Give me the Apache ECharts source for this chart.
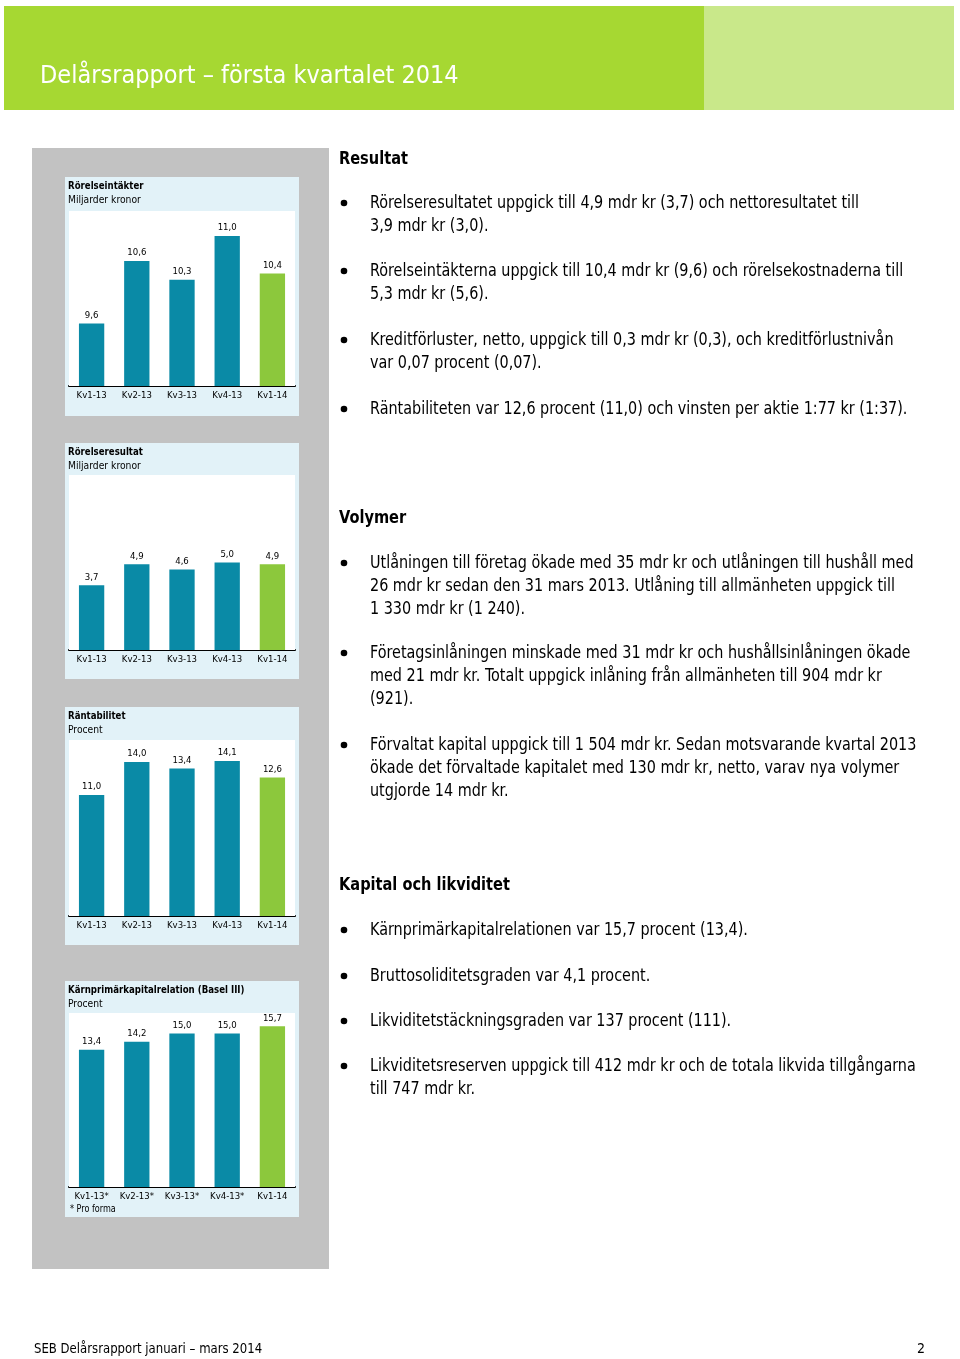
<!DOCTYPE html>
<html>
<head>
<meta charset="utf-8">
<title>Delårsrapport – första kvartalet 2014</title>
<script src="https://cdn.jsdelivr.net/npm/echarts@6/dist/echarts.min.js"></script>
<style>
  html, body { margin: 0; padding: 0; background: #fff; }
  #main { width: 960px; height: 1359px; }
</style>
</head>
<body>
<div id="main"></div>
<script>
// kvartal och värden
var quarters = ['Kv1-13', 'Kv2-13', 'Kv3-13', 'Kv4-13', 'Kv1-14'];
var quartersPro = ['Kv1-13*', 'Kv2-13*', 'Kv3-13*', 'Kv4-13*', 'Kv1-14'];
var rorelseintakter = [9.6, 10.6, 10.3, 11.0, 10.4];
var rorelseresultat = [3.7, 4.9, 4.6, 5.0, 4.9];
var rantabilitet = [11.0, 14.0, 13.4, 14.1, 12.6];
var karnprimar = [13.4, 14.2, 15.0, 15.0, 15.7];

var FONT = '"DejaVu Sans Condensed", "DejaVu Sans", sans-serif';
var TEAL = '#0a8aa6';
var GREEN = '#8cc83c';

// textelement, ev. ihoptryckt i sidled
function txt(x, y, s, font, sx, align) {
    return { type: 'text', x: x, y: y, scaleX: sx || 1, z: 2,
             style: { text: s, fill: '#000', font: font, textAlign: align || 'left', textVerticalAlign: 'middle' } };
}

window.onload = function () {
    var myChart = echarts.init(document.getElementById('main'));

    // panelerna i vänsterspalten
    var panels = [
        { title: 'Rörelseintäkter', sub: 'Miljarder kronor', cats: quarters, data: rorelseintakter,
          box: [177, 416], top: 211, bottom: 386, min: 8.6, max: 11.4 },
        { title: 'Rörelseresultat', sub: 'Miljarder kronor', cats: quarters, data: rorelseresultat,
          box: [443, 679], top: 475, bottom: 650, min: 0, max: 10 },
        { title: 'Räntabilitet', sub: 'Procent', cats: quarters, data: rantabilitet,
          box: [707, 945], top: 740, bottom: 916, min: 0, max: 16 },
        { title: 'Kärnprimärkapitalrelation (Basel III)', sub: 'Procent', cats: quartersPro, data: karnprimar,
          box: [981, 1217], top: 1013, bottom: 1187, min: 0, max: 17 }
    ];

    var title = txt(40, 76, 'Delårsrapport – första kvartalet 2014', '25px ' + FONT, 1);
    title.style.fill = '#fff';

    var graphics = [
        // sidhuvud
        { type: 'rect', shape: { x: 4, y: 6, width: 700, height: 104 }, style: { fill: '#a6d832' }, z: 0 },
        { type: 'rect', shape: { x: 704, y: 6, width: 250, height: 104 }, style: { fill: '#c9e88a' }, z: 0 },
        title,
        // grå spalt
        { type: 'rect', shape: { x: 32, y: 148, width: 297, height: 1121 }, style: { fill: '#c2c2c2' }, z: 0 },
        // sidfot
        txt(34, 1349, 'SEB Delårsrapport januari – mars 2014', '14px ' + FONT, 0.93),
        txt(925, 1349, '2', '14px ' + FONT, 1, 'right')
    ];

    panels.forEach(function (p) {
        graphics.push({ type: 'rect', shape: { x: 65, y: p.box[0], width: 234, height: p.box[1] - p.box[0] },
            style: { fill: '#e2f2f8' }, z: 0 });
        graphics.push(txt(68, p.box[0] + 9, p.title, 'bold 11px ' + FONT, 0.87));
        graphics.push(txt(68, p.box[0] + 23, p.sub, '11px ' + FONT, 0.93));
    });
    graphics.push(txt(70, 1209, '* Pro forma', '10px ' + FONT, 0.9));

    // högerspaltens text
    var blocks = [
        { head: 'Resultat', y: 159 },
        { lines: ['Rörelseresultatet uppgick till 4,9 mdr kr (3,7) och nettoresultatet till', '3,9 mdr kr (3,0).'], y: 202 },
        { lines: ['Rörelseintäkterna uppgick till 10,4 mdr kr (9,6) och rörelsekostnaderna till', '5,3 mdr kr (5,6).'], y: 270 },
        { lines: ['Kreditförluster, netto, uppgick till 0,3 mdr kr (0,3), och kreditförlustnivån', 'var 0,07 procent (0,07).'], y: 339 },
        { lines: ['Räntabiliteten var 12,6 procent (11,0) och vinsten per aktie 1:77 kr (1:37).'], y: 408 },
        { head: 'Volymer', y: 518 },
        { lines: ['Utlåningen till företag ökade med 35 mdr kr och utlåningen till hushåll med',
                  '26 mdr kr sedan den 31 mars 2013. Utlåning till allmänheten uppgick till',
                  '1 330 mdr kr (1 240).'], y: 562 },
        { lines: ['Företagsinlåningen minskade med 31 mdr kr och hushållsinlåningen ökade',
                  'med 21 mdr kr. Totalt uppgick inlåning från allmänheten till 904 mdr kr',
                  '(921).'], y: 652 },
        { lines: ['Förvaltat kapital uppgick till 1 504 mdr kr. Sedan motsvarande kvartal 2013',
                  'ökade det förvaltade kapitalet med 130 mdr kr, netto, varav nya volymer',
                  'utgjorde 14 mdr kr.'], y: 744 },
        { head: 'Kapital och likviditet', y: 885 },
        { lines: ['Kärnprimärkapitalrelationen var 15,7 procent (13,4).'], y: 929 },
        { lines: ['Bruttosoliditetsgraden var 4,1 procent.'], y: 975 },
        { lines: ['Likviditetstäckningsgraden var 137 procent (111).'], y: 1020 },
        { lines: ['Likviditetsreserven uppgick till 412 mdr kr och de totala likvida tillgångarna',
                  'till 747 mdr kr.'], y: 1065 }
    ];
    blocks.forEach(function (b) {
        if (b.head) {
            graphics.push(txt(339, b.y, b.head, 'bold 18px ' + FONT, 0.9));
            return;
        }
        graphics.push({ type: 'circle', shape: { cx: 344, cy: b.y + 1, r: 3.3 }, style: { fill: '#000' } });
        b.lines.forEach(function (t, i) {
            graphics.push(txt(370, b.y + 2 + i * 23, t, '17px ' + FONT, 0.94));
        });
    });

    var fmt = function (v) { return v.toFixed(1).replace('.', ','); };

    var option = {
        animation: false,
        backgroundColor: '#fff',
        textStyle: { fontFamily: FONT },
        graphic: graphics,
        grid: panels.map(function (p) {
            return { left: 69, right: 665, top: p.top, height: p.bottom - p.top, show: true,
                     backgroundColor: '#fff', borderWidth: 0, z: 1 };
        }),
        xAxis: panels.map(function (p, i) {
            return { type: 'category', gridIndex: i, data: p.cats,
                     axisLine: { lineStyle: { color: '#000', width: 2 } },
                     axisTick: { show: false },
                     axisLabel: { color: '#000', fontSize: 9.5, margin: 5, interval: 0, fontFamily: FONT } };
        }),
        yAxis: panels.map(function (p, i) {
            return { type: 'value', gridIndex: i, min: p.min, max: p.max, show: false,
                     splitLine: { show: false } };
        }),
        series: panels.map(function (p, i) {
            return { type: 'bar', xAxisIndex: i, yAxisIndex: i, data: p.data, barWidth: '56%', z: 3,
                     itemStyle: { color: function (d) { return d.dataIndex === p.data.length - 1 ? GREEN : TEAL; } },
                     label: { show: true, position: 'top', distance: 3, color: '#000', fontSize: 9.5,
                              fontFamily: FONT, formatter: function (d) { return fmt(d.value); } } };
        })
    };
    myChart.setOption(option);
};
</script>
</body>
</html>
